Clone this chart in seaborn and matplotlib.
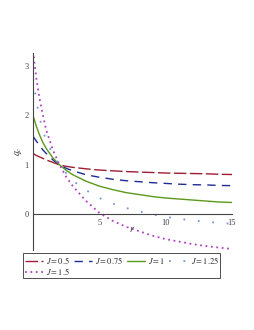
import pandas as pd
import matplotlib
matplotlib.use("Agg")
import matplotlib.pyplot as plt
import seaborn as sns

sns.set_style("white")
plt.rcParams['font.family'] = ['Liberation Serif', 'DejaVu Serif']
plt.rcParams['mathtext.fontset'] = 'stix'

# values
r = [0, 0.25, 0.5, 0.75, 1, 1.5, 2, 2.5, 3, 4, 5, 6, 7, 8, 9, 10, 11, 12, 13, 14, 15]
q_j050 = [1.23, 1.19, 1.16, 1.13, 1.10, 1.05, 1.00, 0.97, 0.95, 0.92, 0.895, 0.88,
          0.865, 0.855, 0.845, 0.835, 0.83, 0.825, 0.82, 0.81, 0.805]
q_j075 = [1.58, 1.48, 1.39, 1.30, 1.23, 1.10, 1.00, 0.93, 0.88, 0.80, 0.75, 0.71,
          0.68, 0.66, 0.64, 0.625, 0.61, 0.60, 0.595, 0.585, 0.58]
q_j100 = [2.00, 1.78, 1.60, 1.45, 1.33, 1.14, 1.00, 0.89, 0.80, 0.67, 0.57, 0.50,
          0.44, 0.40, 0.36, 0.33, 0.31, 0.29, 0.27, 0.25, 0.24]
q_j125 = [2.75, 2.30, 1.95, 1.68, 1.50, 1.20, 1.00, 0.83, 0.68, 0.49, 0.33, 0.22,
          0.13, 0.06, 0.00, -0.05, -0.09, -0.12, -0.15, -0.17, -0.19]
q_j150 = [3.30, 2.75, 2.33, 2.00, 1.70, 1.30, 1.00, 0.76, 0.57, 0.27, 0.03, -0.13,
          -0.25, -0.34, -0.43, -0.50, -0.55, -0.60, -0.64, -0.67, -0.70]
labels = ['$J = 0.5$', '$J = 0.75$', '$J = 1$', '$J = 1.25$', '$J = 1.5$']

series = [q_j050, q_j075, q_j100, q_j125, q_j150]
colors = ['#a01c34', '#1c2c96', '#5c981c', '#7896d4', '#b040c0']
styles = [(0, (9, 2.5)), (0, (6, 4.5)), '-', (0, (1, 7)), (0, (1, 2))]
widths = [1.0, 1.0, 1.0, 1.3, 1.3]

fig = plt.figure(figsize=(2.55, 3.3), dpi=100)
ax = fig.add_axes([33 / 255, 1 - 250 / 330, 199 / 255, 197 / 330])

handles = []
for q, lab, c, ls, lw in zip(series, labels, colors, styles, widths):
    df = pd.DataFrame({'r': r, 'q': q})
    sns.lineplot(data=df, x='r', y='q', ax=ax, color=c, linestyle=ls,
                 linewidth=lw, label=lab, legend=False)
    handles.append(ax.lines[-1])

ax.set_xlim(0, 15)
ax.set_ylim(-0.72, 3.26)
for s in ['top', 'right']:
    ax.spines[s].set_visible(False)
ax.spines['left'].set_position(('data', 0))
ax.spines['bottom'].set_position(('data', 0))
for s in ['left', 'bottom']:
    ax.spines[s].set_color('#444444')
    ax.spines[s].set_linewidth(0.8)

ax.set_xticks([5, 10, 15])
ax.set_xticks(range(1, 16), minor=True)
ax.set_yticks([0, 1, 2, 3])
ax.tick_params(axis='both', which='major', labelsize=6, colors='#444444',
               length=3, width=0.6, direction='inout', pad=1.5)
ax.tick_params(axis='x', which='minor', length=1.5, width=0.5, color='#666666',
               direction='inout')
ax.set_xlabel('')
ax.set_ylabel('')
ax.text(7.5, -0.31, '$r$', fontsize=7, color='#333333', ha='center', va='center')
ax.text(-0.075, 1.27, '$q_c$', fontsize=7, color='#333333', ha='center',
        va='center', rotation=90, transform=ax.get_yaxis_transform())

order = [0, 4, 1, 2, 3]
leg = ax.legend([handles[i] for i in order], [labels[i] for i in order],
                ncol=4, loc='upper left', bbox_to_anchor=(-10 / 199, -3 / 197),
                fontsize=6, frameon=True, fancybox=False, edgecolor='#222222',
                handlelength=2.2, handletextpad=0.4, columnspacing=0.4,
                borderpad=0.2, labelspacing=0.0, borderaxespad=0)
leg.get_frame().set_linewidth(0.7)

fig.savefig('out.png', dpi=100)
